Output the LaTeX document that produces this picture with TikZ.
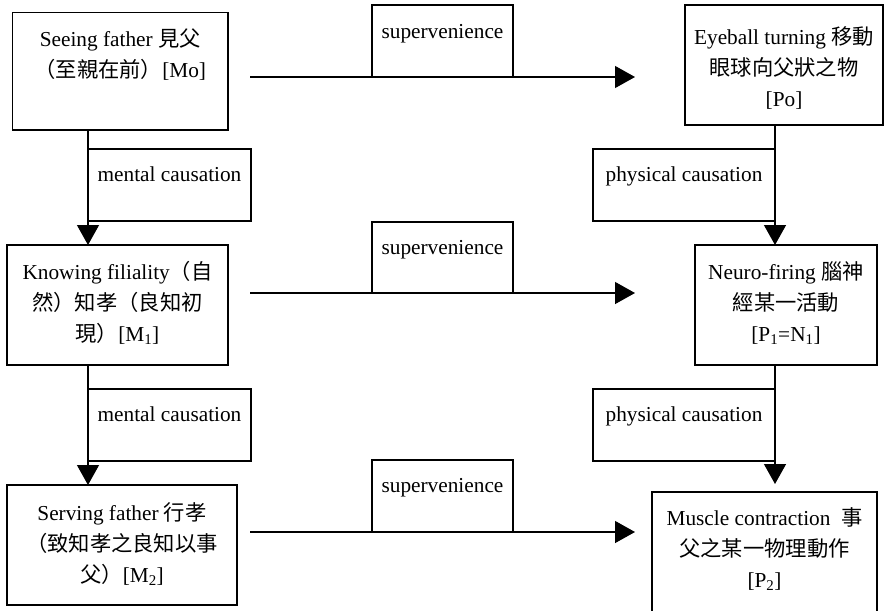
\documentclass[tikz,border=0pt]{standalone}
\usepackage{fontspec}
\setmainfont{Liberation Serif}
\newfontfamily\cjkfont{Noto Sans CJK TC}
\newcommand{\zh}[1]{{\cjkfont #1}}
\usetikzlibrary{arrows.meta}
\begin{document}
\begin{tikzpicture}[x=1pt,y=-1pt,
  box/.style={draw, line width=1.3pt, inner sep=0pt, outer sep=0pt},
  txt/.style={anchor=north, inner sep=0pt, align=center, font=\fontsize{21.3}{31}\selectfont},
  arr/.style={line width=1.3pt, -{Triangle[length=20pt,width=22pt]}}]
\clip (0,0) rectangle (885,610);
% main boxes
\node[box, minimum width=215.5pt, minimum height=117.5pt] (mo) at (120.25,71.25) {};
\node[box, minimum width=198pt, minimum height=120pt] (po) at (784,65) {};
\node[box, minimum width=221pt, minimum height=120pt] (m1) at (117.5,305) {};
\node[box, minimum width=182pt, minimum height=120pt] (n1) at (786,305) {};
\node[box, minimum width=230pt, minimum height=120pt] (m2) at (122,545) {};
\node[box, minimum width=225pt, minimum height=148pt] (p2) at (764.5,566) {};
% label boxes
\node[box, minimum width=163pt, minimum height=72pt] (mc1) at (169.5,185) {};
\node[box, minimum width=182pt, minimum height=72pt] (pc1) at (684,185) {};
\node[box, minimum width=163pt, minimum height=72pt] (mc2) at (169.5,425) {};
\node[box, minimum width=182pt, minimum height=72pt] (pc2) at (684,425) {};
\node[box, minimum width=141pt, minimum height=72pt] (sup1) at (442.5,41) {};
\node[box, minimum width=141pt, minimum height=71pt] (sup2) at (442.5,257.5) {};
\node[box, minimum width=141pt, minimum height=72pt] (sup3) at (442.5,496) {};
% texts
\node[txt] (tmo) at ([yshift=-16pt]mo.north) {Seeing father \zh{見父}\\\zh{（至親在前）}[Mo]};
\node[txt] (tpo) at ([yshift=-21pt]po.north) {Eyeball turning \zh{移動}\\\zh{眼球向父狀之物}\\{}[Po]};
\node[txt] (tm1) at ([yshift=-16pt]m1.north) {Knowing filiality\zh{（自}\\\zh{然）知孝（良知初}\\\zh{現）}[M\textsubscript{1}]};
\node[txt] (tn1) at ([yshift=-16pt]n1.north) {Neuro-firing \zh{腦神}\\\zh{經某一活動}\\{}[P\textsubscript{1}=N\textsubscript{1}]};
\node[txt] (tm2) at ([yshift=-17pt]m2.north) {Serving father \zh{行孝}\\\zh{（致知孝之良知以事}\\\zh{父）}[M\textsubscript{2}]};
\node[txt] (tp2) at ([yshift=-15pt]p2.north) {Muscle contraction \ \zh{事}\\\zh{父之某一物理動作}\\{}[P\textsubscript{2}]};
\node[txt] (tmc1) at ([yshift=-18pt]mc1.north) {mental causation};
\node[txt] (tpc1) at ([yshift=-18pt]pc1.north) {physical causation};
\node[txt] (tmc2) at ([yshift=-18pt]mc2.north) {mental causation};
\node[txt] (tpc2) at ([yshift=-18pt]pc2.north) {physical causation};
\node[txt] (ts1) at ([yshift=-19pt]sup1.north) {supervenience};
\node[txt] (ts2) at ([yshift=-18pt]sup2.north) {supervenience};
\node[txt] (ts3) at ([yshift=-18pt]sup3.north) {supervenience};
% horizontal arrow ends
\coordinate (h1s) at (250,77);  \coordinate (h1e) at (635,77);
\coordinate (h2s) at (250,293); \coordinate (h2e) at (635,293);
\coordinate (h3s) at (250,532); \coordinate (h3e) at (635,532);
\draw[arr] (h1s) -- (h1e);
\draw[arr] (h2s) -- (h2e);
\draw[arr] (h3s) -- (h3e);
% vertical arrows
\draw[arr] (mo.south -| mc1.west) -- (m1.north -| mc1.west);
\draw[arr] (m1.south -| mc2.west) -- (m2.north -| mc2.west);
\draw[arr] (po.south -| pc1.east) -- (n1.north -| pc1.east);
\draw[arr, shorten >=8pt] (n1.south -| pc2.east) -- (p2.north -| pc2.east);
\end{tikzpicture}
\end{document}
